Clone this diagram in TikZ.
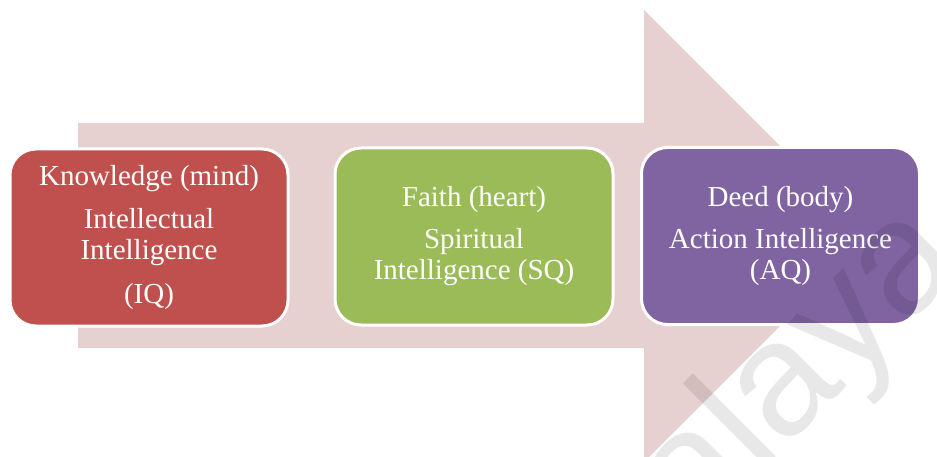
\documentclass[tikz,border=0pt]{standalone}
\usepackage{fontspec}
\setmainfont{Liberation Serif}
\newfontfamily\marksans{Liberation Sans}
\definecolor{arrowpink}{RGB}{231,208,208}
\definecolor{stagered}{RGB}{192,80,77}
\definecolor{stagegreen}{RGB}{155,187,89}
\definecolor{stagepurple}{RGB}{128,100,162}
\tikzset{
  stage/.style={draw=white, line width=3pt, rounded corners=26pt,
    minimum width=278pt, minimum height=177pt, inner sep=0pt,
    text=white, align=center, font=\fontsize{29}{31}\selectfont},
  watermark/.style={font=\marksans\fontsize{162}{162}\selectfont,
    text=black, text opacity=0.09, inner sep=0pt, anchor=base west, rotate=45}
}
\begin{document}
\begin{tikzpicture}[x=1pt,y=-1pt]
\useasboundingbox (0,0) rectangle (937,457);
\clip (0,0) rectangle (937,457);
\fill[white] (0,0) rectangle (937,457);
% the broad process arrow behind the three stages
\fill[arrowpink] (78,123) -- (644,123) -- (644,10) -- (870,236)
  -- (644,462) -- (644,348) -- (78,348) -- cycle;
% stages
\node[stage, fill=stagered] (iq) at (149,237.5)
  {Knowledge (mind)\\[12pt]Intellectual\\Intelligence\\[13pt](IQ)};
\node[stage, fill=stagegreen] (sq) at (474,236.5)
  {Faith (heart)\\[11pt]Spiritual\\Intelligence (SQ)};
\node[stage, fill=stagepurple] (aq) at (780.5,236)
  {Deed (body)\\[11pt]Action Intelligence\\(AQ)};
% faint diagonal watermark
\node[watermark] (mark) at (599,634) {Malaya};
\end{tikzpicture}
\end{document}
